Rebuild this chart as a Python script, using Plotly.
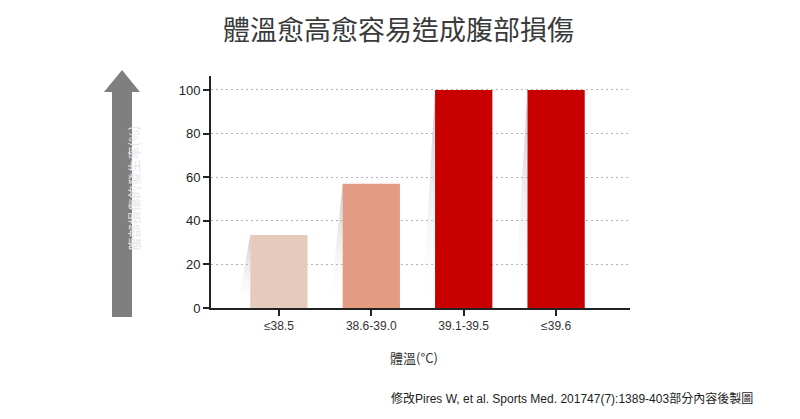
import plotly.graph_objects as go

# 資料
categories = ["≤38.5", "38.6-39.0", "39.1-39.5", "≤39.6"]
values = [33.5, 57, 100, 100]
bar_colors = ["#E6CABC", "#E39C81", "#C80000"]
colors = [bar_colors[0], bar_colors[1], bar_colors[2], bar_colors[2]]

title = "體溫愈高愈容易造成腹部損傷"
y_title = "腹部損傷的發生率(%)"
x_title = "體溫(°C)"
source = "修改Pires W, et al. Sports Med. 201747(7):1389-403部分內容後製圖"

bar_w = 0.62
xs = list(range(len(categories)))

fig = go.Figure()

# 長條左側的陰影（由資料推得）
for xi, v in zip(xs, values):
    left = xi - bar_w / 2
    fig.add_trace(go.Scatter(
        x=[left, left - 0.14, left, left], y=[v, 0, 0, v],
        mode="lines", line=dict(width=0), fill="toself",
        fillgradient=dict(type="vertical",
                          colorscale=[[0, "rgba(255,255,255,0)"],
                                      [1, "rgba(150,150,150,0.55)"]]),
        hoverinfo="skip",
    ))

fig.add_trace(go.Bar(
    x=xs, y=values,
    marker=dict(color=colors, line=dict(width=0)),
    width=bar_w, hoverinfo="y",
))

# 頁面有 8px 邊距，所以邊界往內收
fig.update_layout(
    width=800, height=419,
    margin=dict(l=203, r=178, t=68, b=119),
    plot_bgcolor="white", paper_bgcolor="white",
    showlegend=False,
    font=dict(family="Liberation Sans, Arial", color="#333333", size=12),
    xaxis=dict(
        range=[-0.735, 3.8], tickmode="array",
        tickvals=xs, ticktext=categories,
        showline=True, linecolor="#222222", linewidth=2,
        ticks="outside", ticklen=6, tickwidth=1.5, tickcolor="#222222",
        showgrid=False, zeroline=False,
        tickfont=dict(size=12, color="#333333"),
    ),
    yaxis=dict(
        range=[0, 106.4], tickvals=[0, 20, 40, 60, 80, 100],
        showline=True, linecolor="#222222", linewidth=2,
        ticks="outside", ticklen=6, tickwidth=1.5, tickcolor="#222222",
        showgrid=True, gridcolor="#B5B5B5", griddash="2px,3px", gridwidth=1,
        zeroline=False,
        tickfont=dict(size=13, color="#222222"),
    ),
)

# 標題
fig.add_annotation(text=title, xref="paper", yref="paper", x=0.4475, y=1.0,
                   yanchor="middle", yshift=48, borderpad=0, showarrow=False,
                   font=dict(family="Noto Sans CJK TC", size=27, color="#3A3A3A"))
# x軸標題
fig.add_annotation(text=x_title, xref="paper", yref="paper", x=0.484, y=0,
                   yanchor="middle", yshift=-49, showarrow=False,
                   font=dict(family="Noto Sans CJK TC", size=13, color="#333333"))
# 來源
fig.add_annotation(text=source, xref="paper", yref="paper", x=1, y=0,
                   xanchor="right", yanchor="middle", xshift=125, yshift=-90,
                   showarrow=False,
                   font=dict(family="Liberation Sans, Noto Sans CJK TC", size=12, color="#222222"))

# 左側灰色箭頭
fig.add_shape(type="path", xref="paper", yref="paper",
              path="M -0.2363,-0.039 L -0.2363,0.931 L -0.2554,0.931 L -0.2124,1.026 "
                   "L -0.1695,0.931 L -0.1885,0.931 L -0.1885,-0.039 Z",
              fillcolor="#7F7F7F", line=dict(width=0), layer="above")
fig.add_annotation(text=y_title, xref="paper", yref="paper", x=-0.2124, y=0.517,
                   textangle=-90, showarrow=False,
                   font=dict(family="Noto Sans CJK TC", size=13, color="#E6E6E6"))

fig.write_html("out.html")
